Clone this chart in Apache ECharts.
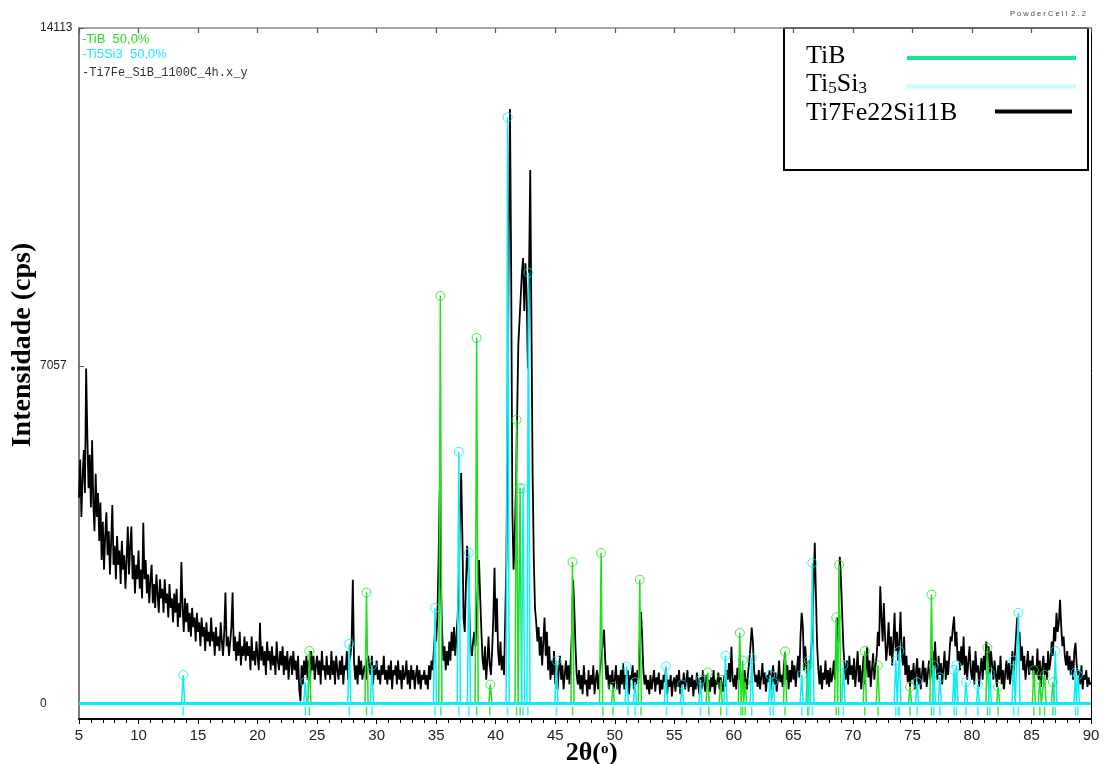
<!DOCTYPE html>
<html>
<head>
<meta charset="utf-8">
<title>Ti7Fe22Si11B – DRX</title>
<script src="https://cdn.jsdelivr.net/npm/echarts@6/dist/echarts.min.js"></script>
<style>
  html, body { margin: 0; padding: 0; background: #fff; }
  #chart { width: 1104px; height: 764px; }
</style>
</head>
<body>
<div id="chart"></div>
<script>
// Measured pattern Ti7Fe_SiB_1100C_4h: intensity (cps), 2θ from 5.0° to 90.0° in 0.1° steps
const START_2THETA = 5.0;
const STEP_2THETA = 0.1;
const measured = [
  4300,5100,3900,4700,5300,4400,7000,5600,4500,5200, // 5
  4100,5500,4200,3600,4800,3900,4400,3400,4200,3000, // 6
  3800,2800,3500,4000,3100,3600,2700,3400,4150,2900, // 7
  3300,2600,3500,2900,3200,2500,3400,2800,3100,2400, // 8
  3000,3700,2700,3300,3700,2600,3100,2300,2900,2600, // 9
  3200,2400,2800,2200,3780,2600,3000,2300,2700,2100, // 10
  2600,2900,2100,2500,2000,2700,2300,1900,2600,2200, // 11
  2400,1900,2600,2100,2300,1800,2500,2000,2200,1700, // 12
  2300,1900,2400,1600,2100,1800,2960,2000,1500,2200, // 13
  1700,2100,1500,1900,1400,2000,1600,1800,1300,1900, // 14
  1500,1700,1200,1800,1400,1600,1100,1700,1300,1500, // 15
  1200,1800,1300,1500,1000,1600,1200,1400,1100,1700, // 16
  1300,1000,1500,2320,1200,1400,1000,1300,1600,2320, // 17
  1100,1400,900,1300,1000,1500,800,1200,1000,1400,   // 18
  900,1300,1000,1200,700,1400,900,1100,800,1300,     // 19
  1000,700,1690,900,1200,800,1100,600,1300,900,      // 20
  1100,700,1200,800,1000,600,1300,900,700,1100,      // 21
  800,1200,600,1000,700,1100,500,900,1000,600,       // 22
  1100,700,900,500,1000,300,50,800,400,900,          // 23
  600,1000,500,900,400,1100,700,1000,500,800,        // 24
  1000,600,900,400,1100,700,800,500,1000,600,        // 25
  800,500,1100,600,900,400,1000,700,500,900,         // 26
  600,1000,400,800,700,1100,500,900,1000,1300,       // 27
  2590,900,500,800,400,1000,600,900,500,700,         // 28
  800,500,900,1000,700,600,1000,400,800,600,         // 29
  900,500,700,400,800,600,1000,500,700,400,          // 30
  800,500,900,300,700,600,800,400,900,500,           // 31
  700,300,800,500,600,900,400,700,300,800,           // 32
  500,700,300,600,800,400,700,300,600,500,           // 33
  700,400,600,300,800,500,900,700,1100,1500,         // 34
  1300,1800,3000,4470,2500,1500,900,1200,700,1100,   // 35
  800,1300,900,1500,1100,1600,1000,1400,1800,2500,   // 36
  4000,4820,3500,1800,1500,2500,3300,2800,1800,1100, // 37
  1000,1300,1500,1200,1800,2500,3000,2200,1500,900,  // 38
  700,1200,500,900,1400,800,600,1100,1800,2840,      // 39
  1500,2200,1100,800,1300,700,1000,600,1800,3000,    // 40
  6000,10000,12420,9000,4000,2800,3500,4500,6000,7500, // 41
  8000,8500,9000,9310,8200,9200,8500,7000,9000,11149,  // 42
  8000,4800,3000,2000,1700,1300,1600,1000,1400,800,  // 43
  1300,1800,1000,1500,700,1200,500,900,600,1100,     // 44
  400,800,300,700,1000,500,800,300,600,900,          // 45
  500,800,400,900,1500,2590,2000,1200,600,400,       // 46
  700,300,600,200,800,400,500,150,700,300,           // 47
  600,400,800,200,500,700,300,600,800,1000,          // 48
  1300,1545,900,500,800,300,600,400,700,300,         // 49
  500,800,300,600,200,700,400,850,300,600,           // 50
  400,700,200,600,500,800,300,650,400,700,           // 51
  500,1200,1920,1400,700,400,600,300,500,200,        // 52
  600,300,500,700,250,550,400,650,200,500,           // 53
  300,600,450,750,200,500,350,600,150,450,           // 54
  550,250,600,350,700,200,500,400,650,300,           // 55
  450,700,250,550,350,600,150,500,300,650,           // 56
  400,200,550,300,700,450,250,600,350,500,           // 57
  250,550,350,700,200,500,400,650,300,550,           // 58
  400,250,600,350,700,500,850,450,1190,500,          // 59
  350,600,300,750,500,850,400,600,350,700,           // 60
  500,300,650,900,1200,1590,1300,700,450,600,        // 61
  350,700,300,550,850,400,650,250,600,450,           // 62
  700,300,550,800,400,650,250,500,900,450,           // 63
  600,350,750,1070,500,800,300,700,450,900,          // 64
  500,800,350,700,1000,550,1400,1900,1600,700,       // 65
  1200,800,500,900,700,1100,1500,2500,3360,2200,     // 66
  1200,700,400,800,300,650,500,900,400,700,          // 67
  350,750,450,600,900,500,1200,1800,1300,3070,       // 68
  2600,1900,1200,800,500,900,400,1000,600,800,       // 69
  500,950,350,700,1100,450,800,300,650,1000,         // 70
  400,750,1190,550,900,350,700,1050,500,800,         // 71
  1000,1500,1200,2450,1800,1300,2100,1400,900,1200,  // 72
  1700,1000,1400,800,1300,1900,1100,1500,900,1300,   // 73
  1920,1100,800,1400,600,1000,450,800,350,700,       // 74
  500,850,300,650,950,400,750,300,600,900,           // 75
  450,750,350,650,900,500,800,1100,600,1300,         // 76
  800,500,1000,600,850,400,750,1100,500,900,         // 77
  600,1000,1400,1300,1600,1820,1200,1500,900,1100,   // 78
  700,1200,800,1400,600,1000,500,900,1200,700,       // 79
  500,900,400,1100,650,800,350,700,950,500,          // 80
  1000,700,1300,900,1200,600,1100,800,500,900,       // 81
  600,350,800,500,1000,400,700,300,650,900,          // 82
  500,850,400,700,1100,600,1000,1400,1800,1300,      // 83
  1500,900,1200,700,1000,500,800,1100,600,900,       // 84
  700,1000,450,800,600,1150,500,900,350,750,         // 85
  1000,600,850,500,1100,700,900,1300,1000,1600,      // 86
  1300,1900,1500,1700,2170,1600,1200,1400,1000,800,  // 87
  1100,700,1000,600,900,500,1100,1270,800,600,       // 88
  700,400,800,300,600,500,700,350,550,400,           // 89
  450                                                // 90
];

// Calculated TiB pattern: [2θ, intensity]
const tibPeaks = [
  [24.35, 1100], [29.15, 2320], [35.35, 8518], [38.4, 7640], [39.55, 400],
  [41.75, 5930], [42.05, 4500], [46.45, 2960], [48.85, 3150], [49.85, 350],
  [52.1, 2590], [57.8, 650], [58.9, 500], [60.5, 1480], [60.75, 900],
  [60.95, 450], [64.3, 1090], [66.2, 800], [68.6, 1800], [68.85, 2900],
  [71.0, 1100], [72.1, 800], [74.8, 350], [76.6, 2280], [81.3, 1170],
  [82.2, 350], [85.2, 700], [85.7, 500], [86.1, 600], [86.8, 450]
];

// Calculated Ti5Si3 pattern: [2θ, intensity]
const ti5si3Peaks = [
  [13.75, 600], [24.0, 450], [27.7, 1250], [29.6, 800], [34.9, 2000],
  [36.9, 5260], [37.75, 3150], [41.0, 12250], [42.3, 4500], [42.75, 9000],
  [45.1, 900], [51.0, 780], [51.7, 450], [54.3, 780], [55.65, 400],
  [57.2, 500], [59.3, 1000], [61.5, 950], [63.05, 600], [63.3, 450],
  [65.7, 600], [66.3, 900], [66.6, 2940], [69.2, 800], [73.6, 900],
  [73.9, 1100], [75.4, 450], [76.8, 800], [77.3, 550], [78.5, 700],
  [78.7, 800], [79.5, 450], [80.5, 400], [81.5, 650], [83.5, 900],
  [83.9, 1900], [87.0, 1100], [88.7, 650], [88.9, 600]
];

// Bragg reflection positions (2θ)
const tibReflections = [
  24.35, 29.15, 35.4, 38.4, 39.5, 41.75, 42.05, 46.45, 49.0, 49.85, 52.2,
  57.9, 58.9, 60.6, 60.75, 60.95, 64.3, 66.2, 68.6, 68.8, 71.0, 72.1,
  74.8, 76.6, 81.3, 82.2, 85.2, 85.7, 86.1, 86.8
];
const ti5si3Reflections = [
  13.75, 24.0, 27.7, 29.6, 34.9, 36.9, 37.75, 41.0, 42.3, 42.7, 45.1,
  51.1, 51.7, 54.35, 55.65, 57.2, 59.4, 61.5, 63.05, 63.3, 65.7, 66.3,
  66.6, 69.2, 73.6, 73.8, 73.9, 75.4, 76.8, 77.3, 78.5, 78.7, 79.5,
  80.5, 81.5, 83.5, 83.9, 87.0, 88.7, 88.9
];

// Axis range and labelled intensity ticks
const X_MIN = 5, X_MAX = 90, X_STEP = 5;
const Y_MIN = -320, Y_MAX = 14113;
const yTickValues = [0, 7057, 14113];

// ---- drawing ----
const GREEN = '#1fe01f';
const CYAN = '#08eefa';
const PEAK_HALF_WIDTH = 0.13;   // half base width of each calculated reflection (°)
const TICK_ROW = -155;          // intensity level of the reflection tick row

const measuredData = measured.map((v, i) => [+(START_2THETA + i * STEP_2THETA).toFixed(2), v]);

function profile(peaks) {
  const pts = [[X_MIN, 0], [X_MAX, 0]];
  peaks.forEach(([p, h]) => {
    pts.push([p - PEAK_HALF_WIDTH, 0], [p, h], [p + PEAK_HALF_WIDTH, 0]);
  });
  pts.sort((a, b) => a[0] - b[0]);
  return pts;
}

const reflRow = list => list.map(p => [p, TICK_ROW]);

const chart = echarts.init(document.getElementById('chart'), null, { renderer: 'canvas' });

const TITLE_FONT = 'bold 26px "Liberation Serif"';

chart.setOption({
  animation: false,
  backgroundColor: '#ffffff',
  grid: { left: 79, right: 13, top: 28, bottom: 45, containLabel: false, outerBoundsMode: 'none' },
  xAxis: [
    {
      type: 'value', min: X_MIN, max: X_MAX, interval: X_STEP, position: 'bottom',
      axisLine: { onZero: false, lineStyle: { color: '#000', width: 2 } },
      axisTick: { inside: false, length: 5, lineStyle: { color: '#000', width: 1 } },
      minorTick: { show: true, splitNumber: 5, length: 4, lineStyle: { color: '#000', width: 1 } },
      axisLabel: { fontFamily: 'Liberation Sans', fontSize: 15, color: '#222', margin: 9 },
      splitLine: { show: false }, minorSplitLine: { show: false }
    },
    {
      type: 'value', min: X_MIN, max: X_MAX, interval: X_STEP, position: 'top',
      axisLine: { onZero: false, lineStyle: { color: '#8c8c8c', width: 1.5 } },
      axisTick: { inside: true, length: 5, lineStyle: { color: '#555', width: 1.2 } },
      axisLabel: { show: false },
      splitLine: { show: false }
    }
  ],
  yAxis: [
    {
      type: 'value', min: Y_MIN, max: Y_MAX, position: 'left',
      axisLine: { onZero: false, lineStyle: { color: '#7c7c7c', width: 2 } },
      axisTick: { inside: true, length: 5, customValues: yTickValues, lineStyle: { color: '#555' } },
      axisLabel: {
        customValues: yTickValues, align: 'left', margin: 39,
        formatter: v => String(v),
        fontFamily: 'Liberation Sans', fontSize: 12, color: '#222'
      },
      splitLine: { show: false }
    },
    {
      type: 'value', min: Y_MIN, max: Y_MAX, position: 'right',
      axisLine: { onZero: false, lineStyle: { color: '#000', width: 1 } },
      axisTick: { show: false }, axisLabel: { show: false }, splitLine: { show: false }
    }
  ],
  series: [
    {
      name: 'Ti7Fe22Si11B', type: 'line', data: measuredData, showSymbol: false, z: 2,
      lineStyle: { color: '#000', width: 1.8 }, silent: true
    },
    {
      name: 'TiB', type: 'line', data: profile(tibPeaks), showSymbol: false, z: 3,
      lineStyle: { color: GREEN, width: 1.5 }, silent: true
    },
    {
      name: 'Ti5Si3', type: 'line', data: profile(ti5si3Peaks), showSymbol: false, z: 4,
      lineStyle: { color: CYAN, width: 1.5 }, silent: true,
      markLine: {
        silent: true, symbol: 'none', label: { show: false },
        lineStyle: { color: CYAN, width: 3, type: 'solid' },
        data: [{ yAxis: 0 }]
      }
    },
    {
      type: 'scatter', data: tibPeaks, z: 5, symbol: 'circle', symbolSize: 9, silent: true,
      itemStyle: { color: 'rgba(0,0,0,0)', borderColor: GREEN, borderWidth: 1 }
    },
    {
      type: 'scatter', data: ti5si3Peaks, z: 5, symbol: 'circle', symbolSize: 9, silent: true,
      itemStyle: { color: 'rgba(0,0,0,0)', borderColor: CYAN, borderWidth: 1 }
    },
    {
      type: 'scatter', data: reflRow(tibReflections), z: 5, symbol: 'rect', symbolSize: [1.5, 9], silent: true,
      itemStyle: { color: GREEN }
    },
    {
      type: 'scatter', data: reflRow(ti5si3Reflections), z: 5, symbol: 'rect', symbolSize: [1.5, 9], silent: true,
      itemStyle: { color: CYAN }
    }
  ],
  graphic: [
    // axis titles
    {
      type: 'text', x: 23, y: 345, rotation: Math.PI / 2, z: 10,
      style: { text: 'Intensidade (cps)', fill: '#000', font: 'bold 28px "Liberation Serif"', align: 'center', verticalAlign: 'middle' }
    },
    { type: 'text', x: 601, y: 753, z: 10, style: { text: '2θ(', fill: '#000', font: TITLE_FONT, align: 'right', verticalAlign: 'middle' } },
    { type: 'text', x: 601, y: 749, z: 10, style: { text: 'o', fill: '#000', font: 'bold 15px "Liberation Serif"', align: 'left', verticalAlign: 'middle' } },
    { type: 'text', x: 609, y: 753, z: 10, style: { text: ')', fill: '#000', font: TITLE_FONT, align: 'left', verticalAlign: 'middle' } },
    // phase list in the upper left corner
    { type: 'text', left: 82, top: 33, z: 10, style: { text: '-TiB  50,0%', fill: '#22dd22', font: '13px "Liberation Sans"' } },
    { type: 'text', left: 82, top: 48, z: 10, style: { text: '-Ti5Si3  50,0%', fill: '#22e6f5', font: '13px "Liberation Sans"' } },
    { type: 'text', left: 82, top: 67, z: 10, style: { text: '-Ti7Fe_SiB_1100C_4h.x_y', fill: '#333', font: '12px "Liberation Mono"' } },
    // program tag
    { type: 'text', left: 1010, top: 10, z: 10, style: { text: 'P o w d e r C e l l  2 . 2', fill: '#444', font: '7.5px "Liberation Sans"' } },
    // legend box
    {
      type: 'group', z: 20,
      children: [
        { type: 'rect', shape: { x: 784, y: 28, width: 304, height: 142 }, style: { fill: '#fff', stroke: '#000', lineWidth: 2 } },
        { type: 'text', x: 806, y: 56, style: { text: 'TiB', fill: '#000', font: '26px "Liberation Serif"', verticalAlign: 'middle' } },
        { type: 'line', shape: { x1: 907, y1: 58, x2: 1076, y2: 58 }, style: { stroke: '#14ea8c', lineWidth: 4 } },
        {
          type: 'text', x: 806, y: 84,
          style: {
            text: '{n|Ti}{s|5}{n|Si}{s|3}', verticalAlign: 'middle', fill: '#000',
            rich: {
              n: { font: '26px "Liberation Serif"', fill: '#000' },
              s: { font: '17px "Liberation Serif"', fill: '#000', padding: [10, 0, 0, 0] }
            }
          }
        },
        { type: 'line', shape: { x1: 907, y1: 86.5, x2: 1076, y2: 86.5 }, style: { stroke: '#c8fcfc', lineWidth: 4 } },
        { type: 'text', x: 806, y: 113, style: { text: 'Ti7Fe22Si11B', fill: '#000', font: '26px "Liberation Serif"', verticalAlign: 'middle' } },
        { type: 'line', shape: { x1: 995, y1: 111.5, x2: 1072, y2: 111.5 }, style: { stroke: '#000', lineWidth: 4 } }
      ]
    }
  ]
});
</script>
</body>
</html>
